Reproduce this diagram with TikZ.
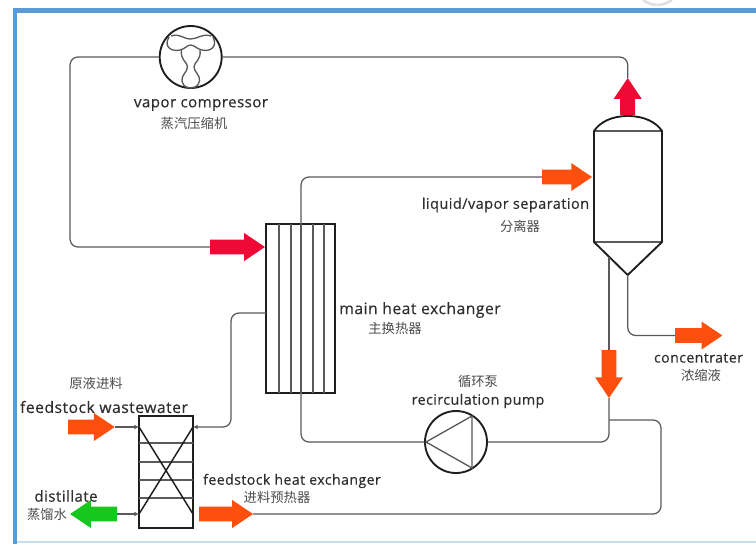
\documentclass[tikz,border=0pt]{standalone}
\usepackage{fontspec}
\setmainfont{Open Sans}
\newfontfamily\cjk{Noto Sans CJK SC}
\usetikzlibrary{shapes.arrows,arrows.meta}
\definecolor{frameblue}{HTML}{5B9BD5}
\definecolor{pipegray}{HTML}{5A5A5A}
\definecolor{inkdark}{HTML}{1E1E1E}
\definecolor{hotred}{HTML}{EE0A35}
\definecolor{feedorange}{HTML}{FF4F0F}
\definecolor{coolgreen}{HTML}{18C71E}
\definecolor{textgray}{HTML}{2E2E2E}
\newcommand{\shaftfill}{\rule{0pt}{10.8pt}}
\tikzset{
  pipe/.style={draw=pipegray,line width=0.95pt,rounded corners=6pt},
  tipped/.style={pipe,-{Latex[length=3.5pt,width=3.5pt]}},
  equipline/.style={draw=inkdark,line width=1.4pt},
  innerline/.style={draw=pipegray,line width=1pt},
  bigarrow/.style={single arrow,inner sep=0pt,outer sep=0pt,minimum width=20.5pt,single arrow head extend=4.9pt,
    single arrow tip angle=68,anchor=tail,draw=none},
  enlabel/.style={font=\fontsize{#1pt}{13pt}\selectfont\addfontfeature{FakeBold=0.35,LetterSpace=3},text=textgray,inner sep=0pt},
  enlabel/.default=11.3,
  cnlabel/.style={font=\fontsize{10pt}{12pt}\cjk,text=textgray!85,inner sep=0pt},
}
\begin{document}
\begin{tikzpicture}[x=0.75pt,y=-0.75pt]
\useasboundingbox (0,0) rectangle (756,544);
\fill[white] (0,0) rectangle (756,544);
% frame
\fill[frameblue] (14,8) rectangle (756,12.5);
\fill[frameblue] (13,8) rectangle (17,544);
\fill[frameblue!35] (17,541) rectangle (756,542.5);
\draw[black!12,line width=2pt] (643,0) .. controls (650,5) and (660,8) .. (672,0);
% equipment
\node[circle,equipline,minimum size=46.5pt,inner sep=0pt] (comp) at (190.7,57) {};
\node[circle,equipline,minimum size=46.5pt,inner sep=0pt] (pump) at (456,442) {};
\node[minimum width=51.75pt,minimum height=126.75pt,inner sep=0pt,equipline] (hx) at (300.5,308.5) {};
\node[minimum width=40.5pt,minimum height=84pt,inner sep=0pt,equipline] (pre) at (166,472) {};
% compressor rotor
\draw[innerline] (171,36) .. controls (180,33) and (183,39) .. (190.7,39) .. controls (198,39) and (202,33) .. (211,36);
\draw[innerline] (169,37) .. controls (163,47) and (172,52) .. (180,50) .. controls (185,49) and (187,45) .. (190.7,45)
  .. controls (194,45) and (197,49) .. (202,50) .. controls (210,52) and (218,47) .. (213,37);
\draw[innerline] (181.5,50) .. controls (180,60) and (187.5,62) .. (187.5,67) .. controls (187.5,72) and (181,75) .. (182,81) .. controls (183,87) and (188,88) .. (190.7,88);
\draw[innerline] (200,50) .. controls (201.5,60) and (194,62) .. (194,67) .. controls (194,72) and (200.5,75) .. (199.5,81) .. controls (198.5,87) and (193,88) .. (190.7,88);
% pump triangle
\draw[innerline] (426,442) -- (472,416) -- (472,468) -- cycle;
% main exchanger tubes
\foreach \tx in {279,291,313,324} \draw[innerline] (\tx,224) -- (\tx,393);
% feed exchanger internals
\foreach \ty in {443,462,480,498} \draw[innerline] (139,\ty) -- (193,\ty);
\draw[equipline,line width=1.1pt] (139,427) -- (193,514);
\draw[equipline,line width=1.1pt] (193,427) -- (139,514);
% separator vessel
\coordinate (vtop) at (627.7,116);
\coordinate (vtip) at (627.7,275);
\coordinate (vleft) at (609,257);
\draw[innerline] (594,131) -- (662,131);
\draw[innerline] (594,242) -- (662,242);
\draw[equipline,line join=round] (594,131) .. controls (600,122) and (612,116) .. (627.7,116) .. controls (644,116) and (656,122) .. (662,131)
  -- (662,242) -- (vtip) -- (594,242) -- cycle;
% block arrows
\node[bigarrow,fill=hotred,minimum height=41.2pt] (hot) at (210,247) {\shaftfill};
\node[bigarrow,fill=hotred,minimum height=27.7pt,rotate=90] (vapor) at (627.7,115) {\shaftfill};
\node[bigarrow,fill=feedorange,minimum height=37.5pt] (mix) at (542,177) {\shaftfill};
\node[bigarrow,fill=feedorange,minimum height=35.5pt] (conc) at (675,335.5) {\shaftfill};
\node[bigarrow,fill=feedorange,minimum height=36pt,rotate=-90] (recirc) at (609,350) {\shaftfill};
\node[bigarrow,fill=feedorange,minimum height=35pt] (feed) at (68,427) {\shaftfill};
\node[bigarrow,fill=feedorange,minimum height=40.5pt] (preout) at (199,514) {\shaftfill};
\node[bigarrow,fill=coolgreen,minimum height=35.2pt,rotate=180] (dist) at (117,514) {\shaftfill};
% waypoints
\coordinate (a1) at (70,57);
\coordinate (a2) at (70,247);
\coordinate (b1) at (627.7,57);
\coordinate (c1) at (301,177);
\coordinate (d1) at (301,442);
\coordinate (e1) at (609,442);
\coordinate (f0) at (609,420);
\coordinate (f1) at (661,420);
\coordinate (f2) at (661,514);
\coordinate (g1) at (627.7,335.5);
\coordinate (h0) at (266,313);
\coordinate (h1) at (231,313);
\coordinate (h2) at (231,427);
\coordinate (k0) at (193,427);
\coordinate (k1) at (139,427);
\coordinate (k2) at (139,514);
% pipes
\draw[pipe] (comp.west) -- (a1) -- (a2) -- (hot.tail);
\draw[pipe] (comp.east) -- (b1) -- (vapor.tip);
\draw[pipe] (d1 |- hx.north) -- (c1) -- (mix.tail);
\draw[pipe,rounded corners=0pt] (d1 |- hx.north) -- (d1 |- hx.south);
\draw[pipe] (d1 |- hx.south) -- (d1) -- (pump.west);
\draw[pipe] (pump.east) -- (e1) -- (recirc.tip);
\draw[pipe] (vleft) -- (recirc.tail);
\draw[pipe] (f0) -- (f1) -- (f2) -- (preout.tip);
\draw[pipe] (vtip) -- (g1) -- (conc.tail);
\draw[tipped] (h0) -- (h1) -- (h2) -- (k0);
\draw[tipped] (feed.tip) -- (k1);
\draw[tipped] (dist.tail) -- (k2);
% labels
\node[enlabel] (l1) at (201,105) {vapor compressor};
\node[cnlabel] (l2) at (194,123) {蒸汽压缩机};
\node[enlabel=10.9] (l3) at (505.5,205) {liquid/vapor separation};
\node[cnlabel] (l4) at (520,226) {分离器};
\node[enlabel=11.8] (l5) at (420,310) {main heat exchanger};
\node[cnlabel] (l6) at (395,328) {主换热器};
\node[cnlabel] (l7) at (96,383) {原液进料};
\node[enlabel=11.8] (l8) at (104,407) {feedstock wastewater};
\node[enlabel] (l9) at (66,496) {distillate};
\node[cnlabel] (l10) at (47,514) {蒸馏水};
\node[enlabel=10.6] (l11) at (292,481) {feedstock heat exchanger};
\node[cnlabel] (l12) at (277,497) {进料预热器};
\node[cnlabel] (l13) at (478,381) {循环泵};
\node[enlabel=10.7] (l14) at (478,401) {recirculation pump};
\node[enlabel=10.6] (l15) at (698.5,358) {concentrater};
\node[cnlabel] (l16) at (701,375) {浓缩液};
\end{tikzpicture}
\end{document}
